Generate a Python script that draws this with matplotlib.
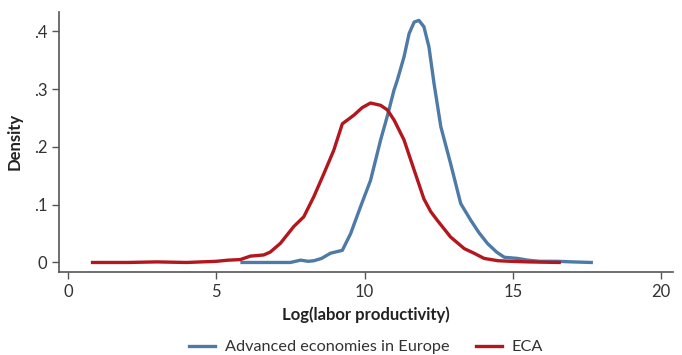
import numpy as np
import matplotlib.pyplot as plt

plt.rcParams['font.family'] = ['Lato', 'DejaVu Sans']

# density curves
adv_x = [5.87, 7.16, 7.5, 7.84, 8.1, 8.29, 8.55, 8.85, 9.25, 9.53, 9.86, 10.2, 10.54, 10.77,
         10.99, 11.1, 11.33, 11.5, 11.67, 11.83, 12.0, 12.17, 12.34, 12.57, 12.9, 13.24,
         13.58, 13.85, 14.14, 14.45, 14.71, 15.16, 15.5, 15.9, 16.5, 17.0, 17.64]
adv_y = [0.0, 0.0, 0.0, 0.004, 0.002, 0.003, 0.007, 0.016, 0.021, 0.05, 0.096, 0.142, 0.212, 0.254,
         0.298, 0.315, 0.356, 0.396, 0.416, 0.419, 0.408, 0.373, 0.31, 0.235, 0.171, 0.102,
         0.073, 0.052, 0.033, 0.018, 0.009, 0.007, 0.004, 0.002, 0.002, 0.001, 0.0]

eca_x = [0.83, 2.0, 3.0, 4.0, 5.0, 5.4, 5.81, 6.15, 6.6, 6.82, 7.16, 7.61, 7.95, 8.29, 8.63,
         8.96, 9.25, 9.64, 9.92, 10.2, 10.54, 10.77, 11.0, 11.33, 11.67, 12.0, 12.23, 12.45,
         12.9, 13.36, 13.69, 14.03, 14.5, 14.93, 15.5, 16.56]
eca_y = [0.0, 0.0, 0.001, 0.0, 0.002, 0.004, 0.005, 0.011, 0.013, 0.018, 0.033, 0.062, 0.079,
         0.114, 0.154, 0.194, 0.24, 0.255, 0.268, 0.276, 0.272, 0.264, 0.246, 0.212, 0.16,
         0.11, 0.088, 0.073, 0.044, 0.024, 0.016, 0.007, 0.003, 0.002, 0.001, 0.0]

xticks = [0, 5, 10, 15, 20]
yticks = [0, 0.1, 0.2, 0.3, 0.4]
ylabels = ['0', '.1', '.2', '.3', '.4']

fig = plt.figure(figsize=(6.82, 3.55), dpi=100)
ax = fig.add_axes([0.0865, 0.2346, 0.9005, 0.7324])

ax.plot(adv_x, adv_y, color='#4d7aa6', lw=2.4, label='Advanced economies in Europe',
        solid_joinstyle='round')
ax.plot(eca_x, eca_y, color='#b3161d', lw=2.4, label='ECA', solid_joinstyle='round')

ax.set_xlim(-0.3, 20.4)
ax.set_ylim(-0.016, 0.434)
ax.set_xticks(xticks)
ax.set_yticks(yticks)
ax.set_yticklabels(ylabels)

for s in ['top', 'right']:
    ax.spines[s].set_visible(False)
for s in ['left', 'bottom']:
    ax.spines[s].set_color('#555555')
    ax.spines[s].set_linewidth(1.2)
ax.tick_params(colors='#555555', labelcolor='#333333', labelsize=12, length=5, width=1)

ax.set_xlabel('Log(labor productivity)', fontsize=12, fontweight='bold', color='#222222', labelpad=5)
ax.set_ylabel('Density', fontsize=12, fontweight='bold', color='#222222', labelpad=8)

# legend centred under the plot area
fig.legend(loc='center', bbox_to_anchor=(0.537, 0.022), ncol=2, frameon=False, fontsize=11.7,
           handlelength=1.6, handletextpad=0.6, columnspacing=1.6, labelcolor='#333333')

fig.savefig('out.png', dpi=100)
